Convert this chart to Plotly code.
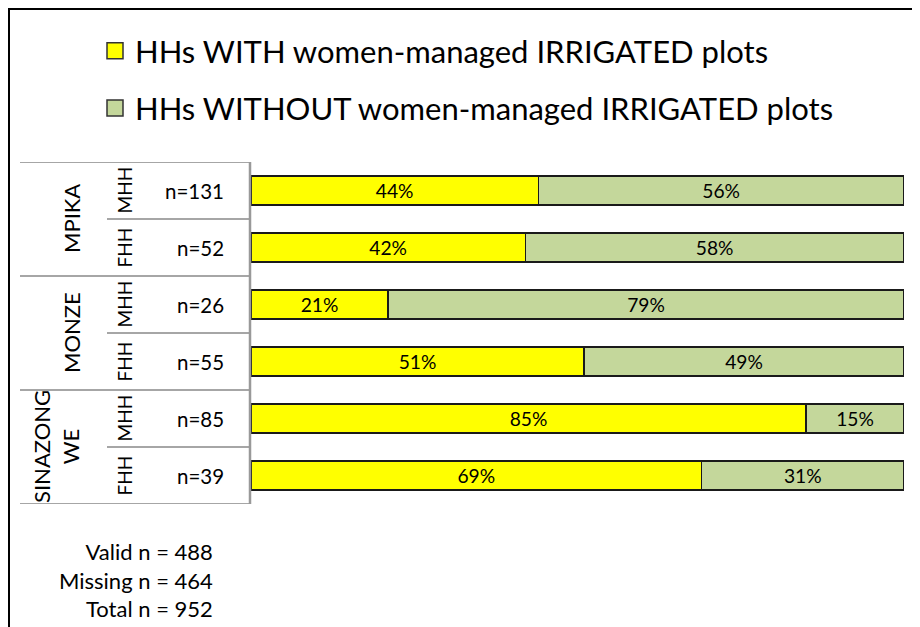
import plotly.graph_objects as go

# ---------------- data ----------------
regions = ["MPIKA", "MONZE", "SINAZONG<br>WE"]
hh_types = ["MHH", "FHH", "MHH", "FHH", "MHH", "FHH"]
n_labels = ["n=131", "n=52", "n=26", "n=55", "n=85", "n=39"]
with_pct = [44, 42, 21, 51, 85, 69]
without_pct = [56, 58, 79, 49, 15, 31]
series_names = ["HHs WITH women-managed IRRIGATED plots",
                "HHs WITHOUT women-managed IRRIGATED plots"]
summary_lines = ["Valid n = 488", "Missing n = 464", "Total n = 952"]

colors = ["#FFFF00", "#C4D79B"]
FONT = "Lato, 'Liberation Sans', sans-serif"

# row ids (one per bar)
row_ids = []
for i, hh in enumerate(hh_types):
    row_ids.append(f"{regions[i // 2].replace('<br>', ' ')} {hh}")

# ---------------- layout geometry (pixels) ----------------
OFF = 8  # page body margin
W, H = 920 - OFF, 627 - OFF
PL, PR, PT, PB = 251, 904, 162, 504   # plot area in screen pixels
L, R, T, B = PL - OFF, W - (PR - OFF), PT - OFF, H - (PB - OFF)
PW = W - L - R
PH = H - T - B


def px_x(px):
    return (px - OFF - L) / PW


def px_y(py):
    return (H - B - (py - OFF)) / PH


fig = go.Figure()

for name, vals, col in zip(series_names, [with_pct, without_pct], colors):
    fig.add_trace(go.Bar(
        y=row_ids, x=vals, orientation="h", name=name,
        marker=dict(color=col, line=dict(color="#1a1a1a", width=1.5)),
        width=0.51,
        text=[f"{v}%" for v in vals], textposition="inside",
        insidetextanchor="middle", textangle=0,
        textfont=dict(size=20, color="black", family=FONT),
        showlegend=False, legendgroup=name, hoverinfo="skip",
    ))

# legend entries (square swatches)
for name, col in zip(series_names, colors):
    fig.add_trace(go.Scatter(
        x=[None], y=[None], mode="markers", name=name, legendgroup=name,
        marker=dict(symbol="square", size=16, color=col,
                    line=dict(color="#333333", width=1.5)),
        showlegend=True,
    ))

shapes = []
line_col = "#A6A6A6"
# outer frame
shapes.append(dict(type="rect", xref="paper", yref="paper",
                   x0=px_x(9), x1=px_x(960), y0=px_y(9), y1=px_y(680),
                   line=dict(color="black", width=2), fillcolor="rgba(0,0,0,0)",
                   layer="above"))
# table horizontal lines
n_rows = len(hh_types)
for k in range(n_rows + 1):
    yv = k - 0.5
    x_start = 20 if k % 2 == 0 else 107
    shapes.append(dict(type="line", xref="paper", yref="y",
                       x0=px_x(x_start), x1=px_x(250), y0=yv, y1=yv,
                       line=dict(color=line_col, width=2)))
# table right vertical line
shapes.append(dict(type="line", xref="paper", yref="y",
                   x0=px_x(250), x1=px_x(250), y0=-0.5, y1=n_rows - 0.5,
                   line=dict(color="#999999", width=2.5)))

annotations = []
# region labels
for g, reg in enumerate(regions):
    two = "<br>" in reg
    annotations.append(dict(
        xref="paper", yref="y", x=px_x(56 if two else 71), y=2 * g + 0.5,
        text=reg, textangle=-90, showarrow=False,
        font=dict(size=22, color="black", family=FONT),
        xanchor="center", yanchor="middle", align="center"))
# hh type labels and n labels
for i, (hh, nl) in enumerate(zip(hh_types, n_labels)):
    annotations.append(dict(
        xref="paper", yref="y", x=px_x(124), y=i, text=hh, textangle=-90,
        showarrow=False, font=dict(size=19, color="black", family=FONT),
        xanchor="center", yanchor="middle"))
    annotations.append(dict(
        xref="paper", yref="y", x=px_x(226), y=i, text=nl,
        showarrow=False, font=dict(size=20.5, color="black", family=FONT),
        xanchor="right", yanchor="middle"))
# summary text
annotations.append(dict(
    xref="paper", yref="paper", x=px_x(215), y=px_y(536),
    text="<br>".join(summary_lines), showarrow=False, align="right",
    xanchor="right", yanchor="top",
    font=dict(size=22, color="black", family=FONT)))

fig.update_layout(
    width=W, height=H,
    margin=dict(l=L, r=R, t=T, b=B, autoexpand=False),
    paper_bgcolor="white", plot_bgcolor="white",
    barmode="stack",
    font=dict(family=FONT, color="black"),
    xaxis=dict(range=[0, 100], visible=False, fixedrange=True),
    yaxis=dict(type="category", categoryorder="array", categoryarray=row_ids,
               range=[n_rows - 0.5, -0.5], showticklabels=False,
               showgrid=False, zeroline=False, showline=False, fixedrange=True),
    legend=dict(x=px_x(95), y=px_y(24), xanchor="left", yanchor="top",
                font=dict(size=31, color="black", family=FONT),
                tracegroupgap=14, itemwidth=30, bgcolor="rgba(0,0,0,0)"),
    shapes=shapes,
    annotations=annotations,
)

fig.write_html("out.html")
